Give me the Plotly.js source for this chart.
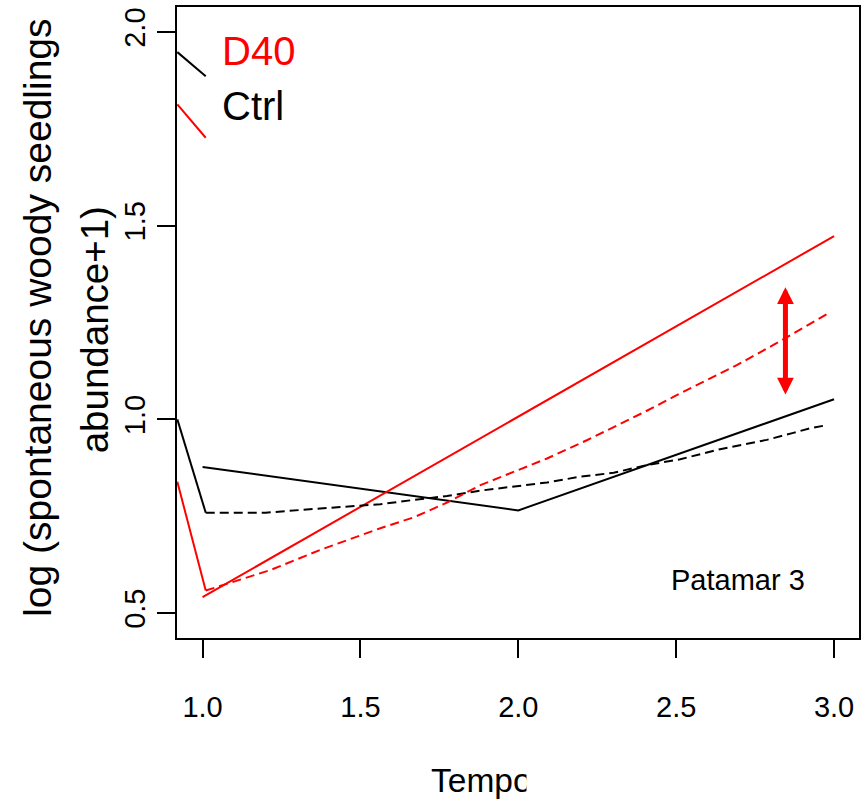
<!DOCTYPE html>
<html>
<head>
<meta charset="utf-8">
<script src="https://cdn.plot.ly/plotly-3.0.1.min.js"></script>
<style>html,body{margin:0;padding:0;background:#fff;}#chart{width:865px;height:799px;}</style>
</head>
<body>
<div id="chart"></div>
<script>
// ---- data ----
const timeTicks = [1, 1.5, 2, 2.5, 3];
const timeTickText = ['1.0', '1.5', '2.0', '2.5', '3.0'];
const yTicks = [0.5, 1, 1.5, 2];
const yTickText = ['0.5', '1.0', '1.5', '2.0'];

// solid (model) lines
const solidTime = [1, 2, 3];
const ctrlSolid = [0.877, 0.765, 1.052];
const d40Solid = [0.541, 1.007, 1.473];

// dashed (smoothed) lines
const d40DashTime = [1.01, 1.215, 1.373, 1.563, 1.669, 1.774, 1.880, 1.985, 2.091, 2.217, 2.402, 2.491, 2.608, 2.692, 2.808, 2.924, 2.98];
const d40Dash = [0.558, 0.611, 0.663, 0.719, 0.747, 0.785, 0.830, 0.865, 0.899, 0.946, 1.020, 1.058, 1.106, 1.140, 1.192, 1.248, 1.273];
const ctrlDashTime = [1.01, 1.2, 1.373, 1.563, 1.669, 1.774, 1.880, 1.985, 2.091, 2.196, 2.302, 2.407, 2.513, 2.639, 2.787, 2.871, 2.924, 2.977];
const ctrlDash = [0.759, 0.759, 0.770, 0.781, 0.792, 0.802, 0.816, 0.826, 0.837, 0.852, 0.862, 0.882, 0.897, 0.923, 0.947, 0.965, 0.977, 0.985];

// short segments entering from the left edge
const entryTime = [0.92, 1.01];
const ctrlEntry = [1.0, 0.759];
const d40Entry = [0.839, 0.558];
const ctrlTop = [1.948, 1.886];
const d40Top = [1.813, 1.727];

// difference arrow
const arrowTime = 2.846;
const arrowRange = [1.060, 1.341];

const labels = {d40: 'D40', ctrl: 'Ctrl', panel: 'Patamar 3', xTitle: 'Tempo',
  yTitle1: 'log (spontaneous woody seedlings', yTitle2: 'abundance+1)'};

// ---- drawing ----
const RED = '#ff0000', BLACK = '#000000';
const FONT = 'Liberation Sans, Arial, sans-serif';
function line(x, y, color, dash) {
  return {type: 'scatter', mode: 'lines', x: x, y: y, hoverinfo: 'skip',
    line: {color: color, width: 2, dash: dash || 'solid'}};
}
const traces = [
  line(solidTime, ctrlSolid, BLACK),
  line(solidTime, d40Solid, RED),
  line(ctrlDashTime, ctrlDash, BLACK, '9px,5px'),
  line(d40DashTime, d40Dash, RED, '9px,5px'),
  line(entryTime, ctrlEntry, BLACK),
  line(entryTime, d40Entry, RED),
  line(entryTime, ctrlTop, BLACK),
  line(entryTime, d40Top, RED)
];

const L = 176.7, R = 859, T = 6.7, B = 638.3;
const W = R - L, H = B - T;
function px(x) { return (x - L) / W; }
function py(y) { return (B - y) / H; }

function note(text, x, y, size, color, extra) {
  return Object.assign({x: px(x), y: py(y), xref: 'paper', yref: 'paper',
    xanchor: 'left', yanchor: 'middle', text: text, showarrow: false,
    font: {size: size, color: color, family: FONT}}, extra || {});
}

const layout = {
  width: 865, height: 799,
  margin: {l: L, r: 865 - R, t: T, b: 799 - B, pad: 0},
  paper_bgcolor: '#fff', plot_bgcolor: '#fff',
  showlegend: false,
  font: {family: FONT, color: BLACK},
  xaxis: {range: [0.919, 3.079], tickvals: timeTicks, ticktext: timeTickText,
    showgrid: false, zeroline: false, showline: true, mirror: true,
    linecolor: BLACK, linewidth: 2, ticks: 'outside', ticklen: 18, tickwidth: 2,
    tickcolor: BLACK, tickfont: {size: 29, family: FONT}, ticklabelstandoff: 24},
  yaxis: {range: [0.4355, 2.0645], tickvals: yTicks, ticktext: yTickText,
    showgrid: false, zeroline: false, showline: true, mirror: true,
    linecolor: BLACK, linewidth: 2, ticks: 'outside', ticklen: 18, tickwidth: 2,
    tickcolor: BLACK, tickangle: -90, tickfont: {size: 29, family: FONT},
    ticklabelstandoff: 0},
  annotations: [
    {x: arrowTime, y: arrowRange[1], ax: arrowTime, ay: arrowRange[0], xref: 'x', yref: 'y',
      axref: 'x', ayref: 'y', text: '', showarrow: true, arrowside: 'end+start',
      arrowhead: 2, startarrowhead: 2, arrowwidth: 5, arrowsize: 0.67, startarrowsize: 0.67, arrowcolor: RED},
    note(labels.d40, 220, 50.5, 40, RED),
    note(labels.ctrl, 220, 106, 40, BLACK),
    note(labels.panel, 669, 580, 29, BLACK),
    note(labels.yTitle1, 37, 317.5, 39, BLACK, {xanchor: 'center', textangle: -90}),
    note(labels.yTitle2, 95, 330, 38.5, BLACK, {xanchor: 'center', textangle: -90}),
    note(labels.xTitle, 429, 781, 33.5, BLACK),
    note(' ', 526, 781, 10, BLACK, {width: 40, height: 50, bgcolor: '#fff', borderpad: 0})
  ]
};
Plotly.newPlot('chart', traces, layout, {displayModeBar: false, staticPlot: true});
</script>
</body>
</html>
